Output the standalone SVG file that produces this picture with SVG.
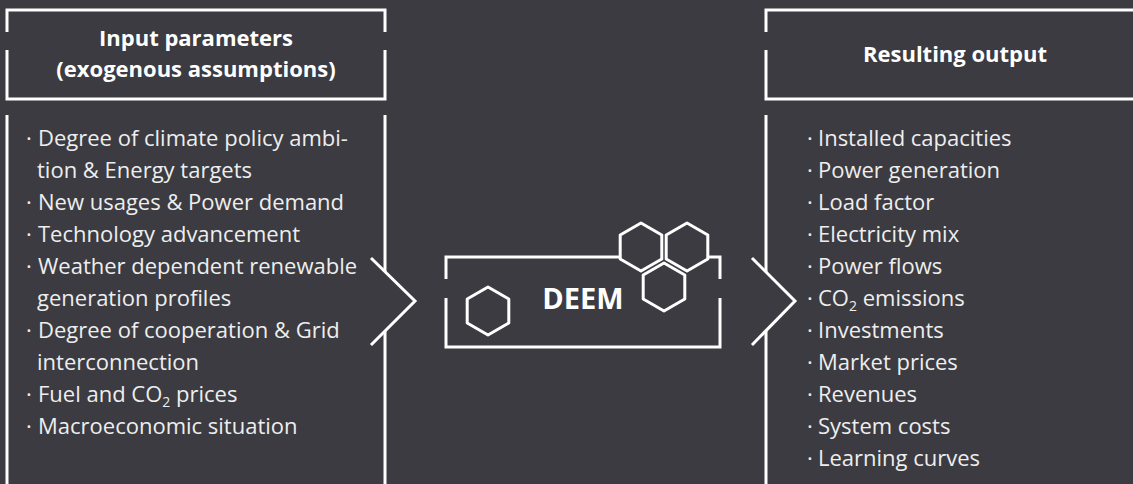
<svg xmlns="http://www.w3.org/2000/svg" width="1133" height="484" viewBox="0 0 1133 484">
<style>
.ln{fill:none;stroke:#ffffff;stroke-width:3;stroke-linecap:butt;stroke-linejoin:miter}
.hex{fill:#3b3b41;stroke:#ffffff;stroke-width:3;stroke-linejoin:round}
.hd{font-family:"Open Sans","Liberation Sans",sans-serif;font-weight:bold;font-size:22px;fill:#ffffff;text-anchor:middle}
.li{font-family:"Open Sans","Liberation Sans",sans-serif;font-size:22px;fill:#eeeeee}
.sub{font-size:14px}
</style>
<defs>
<polygon id="hx" points="0,-24 20.8,-12 20.8,12 0,24 -20.8,12 -20.8,-12"/>
</defs>
<rect x="0" y="0" width="1133" height="484" fill="#3b3b41"/>

<g id="input-header">
<path class="ln" d="M7,32 V10 H385 V32 M7,50 V99 H385 V50"/>
<text class="hd" x="196" y="46">Input parameters</text>
<text class="hd" x="196" y="77">(exogenous assumptions)</text>
</g>

<g id="input-list">
<path class="ln" d="M7,115 V490 M385,115 V272 M385,331 V490"/>
<text class="li" x="26" y="146">·</text><text class="li" x="38" y="146">Degree of climate policy ambi-</text>
<text class="li" x="37" y="178">tion &amp; Energy targets</text>
<text class="li" x="26" y="210">·</text><text class="li" x="38" y="210">New usages &amp; Power demand</text>
<text class="li" x="26" y="242">·</text><text class="li" x="38" y="242">Technology advancement</text>
<text class="li" x="26" y="274">·</text><text class="li" x="38" y="274">Weather dependent renewable</text>
<text class="li" x="37" y="306">generation profiles</text>
<text class="li" x="26" y="338">·</text><text class="li" x="38" y="338">Degree of cooperation &amp; Grid</text>
<text class="li" x="37" y="370">interconnection</text>
<text class="li" x="26" y="402">·</text><text class="li" x="38" y="402">Fuel and CO<tspan class="sub" dy="5">2</tspan><tspan dy="-5"> prices</tspan></text>
<text class="li" x="26" y="434">·</text><text class="li" x="38" y="434">Macroeconomic situation</text>
</g>

<g id="deem">
<path class="ln" d="M446,279 V257 H620 M708,257 H720 V279 M446,298 V347 H720 V298"/>
<use href="#hx" class="hex" x="488" y="311"/>
<use href="#hx" class="hex" x="641" y="247"/>
<use href="#hx" class="hex" x="687" y="247"/>
<use href="#hx" class="hex" x="664" y="287"/>
<text x="583" y="309" font-family="'Open Sans','Liberation Sans',sans-serif" font-weight="bold" font-size="29" fill="#ffffff" text-anchor="middle">DEEM</text>
</g>

<g id="output-header">
<path class="ln" d="M766,32 V10 H1140 M766,50 V99 H1140"/>
<text class="hd" x="955" y="62">Resulting output</text>
</g>

<g id="output-list">
<path class="ln" d="M766,115 V272 M766,331 V490"/>
<text class="li" x="807" y="146">·</text><text class="li" x="818" y="146">Installed capacities</text>
<text class="li" x="807" y="178">·</text><text class="li" x="818" y="178">Power generation</text>
<text class="li" x="807" y="210">·</text><text class="li" x="818" y="210">Load factor</text>
<text class="li" x="807" y="242">·</text><text class="li" x="818" y="242">Electricity mix</text>
<text class="li" x="807" y="274">·</text><text class="li" x="818" y="274">Power flows</text>
<text class="li" x="807" y="306">·</text><text class="li" x="818" y="306">CO<tspan class="sub" dy="5">2</tspan><tspan dy="-5"> emissions</tspan></text>
<text class="li" x="807" y="338">·</text><text class="li" x="818" y="338">Investments</text>
<text class="li" x="807" y="370">·</text><text class="li" x="818" y="370">Market prices</text>
<text class="li" x="807" y="402">·</text><text class="li" x="818" y="402">Revenues</text>
<text class="li" x="807" y="434">·</text><text class="li" x="818" y="434">System costs</text>
<text class="li" x="807" y="466">·</text><text class="li" x="818" y="466">Learning curves</text>
</g>

<g id="connectors">
<path class="ln" d="M371,258 L415,301 L371,345"/>
<path class="ln" d="M752,258 L795,301 L752,345"/>
</g>
</svg>
